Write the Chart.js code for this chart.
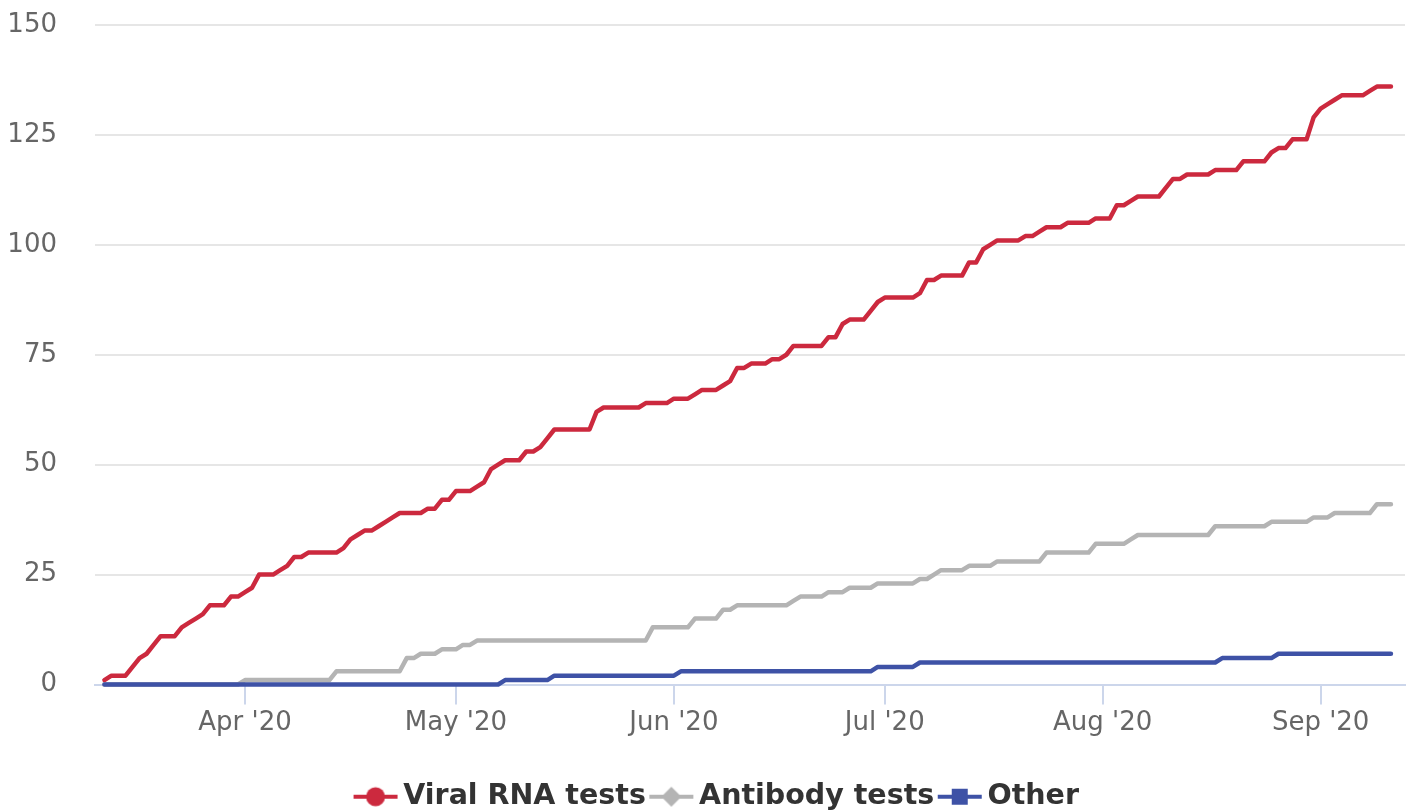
<!DOCTYPE html>
<html>
<head>
<meta charset="utf-8">
<script src="https://cdn.jsdelivr.net/npm/chart.js@4.4.0/dist/chart.umd.min.js"></script>
<style>
  html, body { margin: 0; padding: 0; background: #ffffff; }
  #wrap { width: 1409px; height: 810px; }
</style>
</head>
<body>
<div id="wrap"><canvas id="chart"></canvas></div>
<script>
// Daily cumulative counts, day 0 = 12 Mar 2020
const monthTickDays = [20, 50, 81, 111, 142, 173];
const monthTickLabels = ["Apr '20", "May '20", "Jun '20", "Jul '20", "Aug '20", "Sep '20"];
const seriesNames = ['Viral RNA tests', 'Antibody tests', 'Other'];

const viralRna = [
  1, 2, 2, 2, 4, 6, 7, 9, 11, 11,
  11, 13, 14, 15, 16, 18, 18, 18, 20, 20,
  21, 22, 25, 25, 25, 26, 27, 29, 29, 30,
  30, 30, 30, 30, 31, 33, 34, 35, 35, 36,
  37, 38, 39, 39, 39, 39, 40, 40, 42, 42,
  44, 44, 44, 45, 46, 49, 50, 51, 51, 51,
  53, 53, 54, 56, 58, 58, 58, 58, 58, 58,
  62, 63, 63, 63, 63, 63, 63, 64, 64, 64,
  64, 65, 65, 65, 66, 67, 67, 67, 68, 69,
  72, 72, 73, 73, 73, 74, 74, 75, 77, 77,
  77, 77, 77, 79, 79, 82, 83, 83, 83, 85,
  87, 88, 88, 88, 88, 88, 89, 92, 92, 93,
  93, 93, 93, 96, 96, 99, 100, 101, 101, 101,
  101, 102, 102, 103, 104, 104, 104, 105, 105, 105,
  105, 106, 106, 106, 109, 109, 110, 111, 111, 111,
  111, 113, 115, 115, 116, 116, 116, 116, 117, 117,
  117, 117, 119, 119, 119, 119, 121, 122, 122, 124,
  124, 124, 129, 131, 132, 133, 134, 134, 134, 134,
  135, 136, 136, 136
];

const antibody = [
  0, 0, 0, 0, 0, 0, 0, 0, 0, 0,
  0, 0, 0, 0, 0, 0, 0, 0, 0, 0,
  1, 1, 1, 1, 1, 1, 1, 1, 1, 1,
  1, 1, 1, 3, 3, 3, 3, 3, 3, 3,
  3, 3, 3, 6, 6, 7, 7, 7, 8, 8,
  8, 9, 9, 10, 10, 10, 10, 10, 10, 10,
  10, 10, 10, 10, 10, 10, 10, 10, 10, 10,
  10, 10, 10, 10, 10, 10, 10, 10, 13, 13,
  13, 13, 13, 13, 15, 15, 15, 15, 17, 17,
  18, 18, 18, 18, 18, 18, 18, 18, 19, 20,
  20, 20, 20, 21, 21, 21, 22, 22, 22, 22,
  23, 23, 23, 23, 23, 23, 24, 24, 25, 26,
  26, 26, 26, 27, 27, 27, 27, 28, 28, 28,
  28, 28, 28, 28, 30, 30, 30, 30, 30, 30,
  30, 32, 32, 32, 32, 32, 33, 34, 34, 34,
  34, 34, 34, 34, 34, 34, 34, 34, 36, 36,
  36, 36, 36, 36, 36, 36, 37, 37, 37, 37,
  37, 37, 38, 38, 38, 39, 39, 39, 39, 39,
  39, 41, 41, 41
];

const other = [
  0, 0, 0, 0, 0, 0, 0, 0, 0, 0,
  0, 0, 0, 0, 0, 0, 0, 0, 0, 0,
  0, 0, 0, 0, 0, 0, 0, 0, 0, 0,
  0, 0, 0, 0, 0, 0, 0, 0, 0, 0,
  0, 0, 0, 0, 0, 0, 0, 0, 0, 0,
  0, 0, 0, 0, 0, 0, 0, 1, 1, 1,
  1, 1, 1, 1, 2, 2, 2, 2, 2, 2,
  2, 2, 2, 2, 2, 2, 2, 2, 2, 2,
  2, 2, 3, 3, 3, 3, 3, 3, 3, 3,
  3, 3, 3, 3, 3, 3, 3, 3, 3, 3,
  3, 3, 3, 3, 3, 3, 3, 3, 3, 3,
  4, 4, 4, 4, 4, 4, 5, 5, 5, 5,
  5, 5, 5, 5, 5, 5, 5, 5, 5, 5,
  5, 5, 5, 5, 5, 5, 5, 5, 5, 5,
  5, 5, 5, 5, 5, 5, 5, 5, 5, 5,
  5, 5, 5, 5, 5, 5, 5, 5, 5, 6,
  6, 6, 6, 6, 6, 6, 6, 7, 7, 7,
  7, 7, 7, 7, 7, 7, 7, 7, 7, 7,
  7, 7, 7, 7
];

const seriesColors = ['#cc293e', '#b4b4b4', '#3e52a6'];
const markerShapes = ['circle', 'diamond', 'square'];
const fontFamily = "'DejaVu Sans', Verdana, sans-serif";

// Legend symbol: short line with the marker in the middle
function legendSymbol(color, shape) {
  const c = document.createElement('canvas');
  c.width = 46;
  c.height = 24;
  const ctx = c.getContext('2d');
  ctx.strokeStyle = color;
  ctx.fillStyle = color;
  ctx.lineWidth = 4;
  ctx.beginPath();
  ctx.moveTo(1, 12);
  ctx.lineTo(45, 12);
  ctx.stroke();
  ctx.beginPath();
  if (shape === 'circle') {
    ctx.arc(23, 12, 9.5, 0, Math.PI * 2);
  } else if (shape === 'diamond') {
    ctx.moveTo(23, 2);
    ctx.lineTo(33, 12);
    ctx.lineTo(23, 22);
    ctx.lineTo(13, 12);
    ctx.closePath();
  } else {
    ctx.rect(15, 4, 16, 16);
  }
  ctx.fill();
  return c;
}

// Nudge the legend a little to the right, as in the original
const legendShift = {
  id: 'legendShift',
  afterLayout(chart) {
    chart.legend.left += 18;
    chart.legend.right += 18;
  }
};

const allSeries = [viralRna, antibody, other];

new Chart(document.getElementById('chart'), {
  type: 'line',
  data: {
    datasets: seriesNames.map((name, k) => ({
      label: name,
      data: allSeries[k].map((v, i) => ({ x: i, y: v })),
      borderColor: seriesColors[k],
      backgroundColor: seriesColors[k],
      borderWidth: 4.5,
      pointRadius: 0,
      tension: 0,
      borderJoinStyle: 'round',
      borderCapStyle: 'round',
      clip: false,
      order: 3 - k
    }))
  },
  plugins: [legendShift],
  options: {
    responsive: true,
    maintainAspectRatio: false,
    animation: false,
    layout: { padding: { top: 25, right: 4, left: 0, bottom: -11 } },
    plugins: {
      tooltip: { enabled: false },
      legend: {
        position: 'bottom',
        labels: {
          usePointStyle: true,
          pointStyleWidth: 27,
          padding: 12,
          color: '#333333',
          font: { family: fontFamily, size: 28.5, weight: 'bold' },
          generateLabels: chart => chart.data.datasets.map((ds, i) => ({
            text: ds.label,
            fontColor: '#333333',
            fillStyle: ds.borderColor,
            strokeStyle: ds.borderColor,
            lineWidth: 0,
            hidden: false,
            datasetIndex: i,
            pointStyle: legendSymbol(seriesColors[i], markerShapes[i])
          }))
        }
      }
    },
    scales: {
      x: {
        type: 'linear',
        bounds: 'data',
        min: -1.34,
        max: 185,
        afterBuildTicks: scale => {
          scale.ticks = monthTickDays.map(v => ({ value: v }));
        },
        afterFit: scale => { scale.height = 86; },
        ticks: {
          autoSkip: false,
          maxRotation: 0,
          padding: 3,
          color: '#666666',
          font: { family: fontFamily, size: 26 },
          callback: v => monthTickLabels[monthTickDays.indexOf(v)]
        },
        grid: { drawOnChartArea: false, tickLength: 20, color: '#ccd6eb', lineWidth: 2 },
        border: { color: '#ccd6eb', width: 2 }
      },
      y: {
        min: 0,
        max: 150,
        afterFit: scale => {
          scale.width = 95;
          scale.paddingTop = 0;
          scale.paddingBottom = 0;
        },
        ticks: {
          stepSize: 25,
          padding: 38,
          color: '#666666',
          font: { family: fontFamily, size: 26 }
        },
        grid: { color: '#e6e6e6', lineWidth: 2, drawTicks: false },
        border: { display: false }
      }
    }
  }
});
</script>
</body>
</html>
